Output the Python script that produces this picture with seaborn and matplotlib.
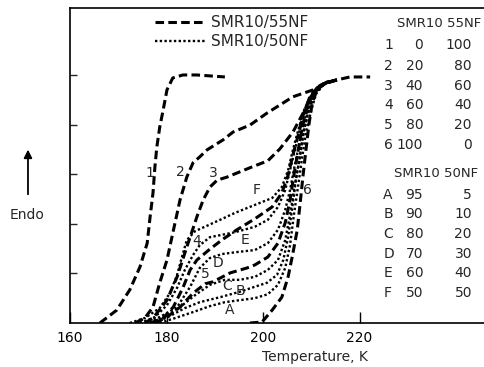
import matplotlib
matplotlib.use("Agg")
import matplotlib.pyplot as plt
from matplotlib.lines import Line2D
import seaborn as sns
import pandas as pd

# ---------------- data (Temperature in K, endotherm signal in arbitrary units) ----------------
series_names = ["SMR10/55NF", "SMR10/50NF"]

t1 = [166.2, 169.7, 172.4, 174.5, 176.0, 176.6, 177.2, 177.6, 178.0, 178.6, 179.3, 180.1, 181.3, 183.4, 186.3, 192.1]
s1 = [0.00, 0.26, 0.67, 1.13, 1.61, 2.14, 2.62, 3.15, 3.55, 3.95, 4.29, 4.70, 4.94, 5.00, 5.00, 4.96]

t2 = [173.5, 175.5, 177.2, 178.6, 180.1, 181.3, 182.8, 184.2, 185.5, 186.9, 188.4, 191.7, 193.8, 197.3, 200.8, 206.2, 210.4, 213.3, 215.3, 218.0, 222.2]
s2 = [0.00, 0.10, 0.32, 0.81, 1.27, 1.81, 2.48, 2.94, 3.23, 3.35, 3.49, 3.69, 3.85, 3.99, 4.23, 4.56, 4.70, 4.84, 4.90, 4.96, 4.96]

t3 = [175.5, 177.2, 180.1, 182.2, 184.2, 186.3, 187.6, 189.0, 190.5, 192.5, 197.3, 201.0, 203.5, 206.2, 208.3, 210.4, 212.4, 215.3]
s3 = [0.00, 0.10, 0.46, 0.93, 1.53, 2.14, 2.48, 2.74, 2.88, 2.94, 3.13, 3.27, 3.51, 3.85, 4.23, 4.64, 4.82, 4.90]

t4 = [176.6, 179.3, 181.4, 183.4, 184.9, 186.3, 189.0, 191.7, 194.6, 198.3, 201.9, 203.9, 205.2, 206.2, 207.3, 208.3, 209.7, 211.2, 213.3, 215.3]
s4 = [0.00, 0.10, 0.32, 0.71, 1.07, 1.27, 1.49, 1.69, 1.88, 2.10, 2.34, 2.62, 2.98, 3.39, 3.79, 4.19, 4.56, 4.74, 4.86, 4.90]

t5 = [177.6, 180.1, 182.8, 185.5, 188.0, 189.6, 193.2, 196.7, 198.3, 201.0, 203.1, 204.6, 205.6, 206.4, 207.3, 208.1, 209.1, 210.4, 212.2, 215.3]
s5 = [0.00, 0.12, 0.32, 0.60, 0.79, 0.83, 1.01, 1.11, 1.17, 1.33, 1.61, 2.02, 2.48, 2.98, 3.49, 3.93, 4.33, 4.64, 4.82, 4.90]

t6 = [197.3, 199.8, 201.9, 203.9, 205.2, 206.2, 207.1, 207.7, 208.3, 208.9, 209.5, 210.2, 211.2, 212.9, 215.3]
s6 = [0.00, 0.02, 0.26, 0.52, 0.93, 1.41, 1.88, 2.42, 2.98, 3.49, 3.99, 4.44, 4.70, 4.84, 4.90]

tA = [178.6, 181.8, 185.5, 189.0, 192.1, 195.2, 198.3, 201.0, 203.1, 204.6, 205.6, 206.4, 207.3, 208.1, 208.9, 210.0, 211.0, 212.7, 215.3]
sA = [0.00, 0.10, 0.22, 0.34, 0.42, 0.46, 0.50, 0.58, 0.77, 1.11, 1.57, 2.18, 2.78, 3.33, 3.83, 4.29, 4.62, 4.82, 4.90]

tB = [177.6, 180.7, 183.8, 186.9, 191.1, 195.2, 198.3, 200.8, 202.9, 204.2, 205.2, 206.0, 206.8, 207.7, 208.5, 209.5, 210.8, 212.4, 215.3]
sB = [0.00, 0.14, 0.30, 0.42, 0.52, 0.63, 0.73, 0.81, 0.97, 1.27, 1.73, 2.28, 2.88, 3.39, 3.89, 4.29, 4.64, 4.82, 4.90]

tC = [176.6, 179.7, 182.8, 185.9, 189.0, 192.1, 195.2, 198.3, 201.0, 203.1, 204.6, 205.6, 206.6, 207.5, 208.3, 209.3, 210.6, 212.2, 215.3]
sC = [0.00, 0.12, 0.32, 0.56, 0.77, 0.87, 0.87, 0.93, 1.07, 1.27, 1.67, 2.18, 2.78, 3.27, 3.79, 4.23, 4.60, 4.80, 4.90]

tD = [175.5, 178.6, 182.2, 184.9, 186.9, 189.0, 191.5, 194.6, 198.3, 201.0, 203.1, 204.6, 205.6, 206.6, 207.7, 208.7, 210.0, 211.4, 213.3, 215.3]
sD = [0.00, 0.12, 0.32, 0.73, 1.11, 1.31, 1.39, 1.43, 1.47, 1.61, 1.88, 2.28, 2.68, 3.19, 3.69, 4.13, 4.54, 4.74, 4.86, 4.90]

tE = [174.5, 177.6, 180.1, 182.2, 183.8, 185.5, 186.9, 189.0, 194.2, 198.3, 201.0, 203.1, 204.6, 205.6, 206.6, 207.7, 208.9, 210.4, 212.2, 215.3]
sE = [0.00, 0.12, 0.36, 0.71, 1.07, 1.37, 1.57, 1.73, 1.83, 1.94, 2.08, 2.34, 2.68, 3.08, 3.49, 3.93, 4.33, 4.64, 4.82, 4.90]

tF = [172.4, 175.5, 178.6, 180.7, 182.2, 183.2, 184.2, 185.9, 188.4, 191.1, 194.2, 198.3, 201.9, 203.9, 205.2, 206.2, 207.3, 208.5, 210.0, 211.8, 215.3]
sF = [0.00, 0.10, 0.30, 0.60, 0.97, 1.33, 1.67, 1.85, 1.96, 2.08, 2.22, 2.38, 2.52, 2.74, 3.08, 3.49, 3.89, 4.29, 4.60, 4.80, 4.90]

curves_55 = {"1": (t1, s1), "2": (t2, s2), "3": (t3, s3), "4": (t4, s4), "5": (t5, s5), "6": (t6, s6)}
curves_50 = {"A": (tA, sA), "B": (tB, sB), "C": (tC, sC), "D": (tD, sD), "E": (tE, sE), "F": (tF, sF)}

# curve label annotations
curve_labels = ["1", "2", "3", "4", "5", "6", "A", "B", "C", "D", "E", "F"]
label_T = [176.6, 182.8, 189.6, 186.3, 188.0, 209.3, 193.0, 195.4, 192.5, 190.7, 196.3, 198.6]
label_S = [3.02, 3.04, 3.02, 1.65, 0.99, 2.68, 0.26, 0.65, 0.75, 1.21, 1.67, 2.68]

# composition table
table1_header = "SMR10 55NF"
table1_ids = ["1", "2", "3", "4", "5", "6"]
table1_smr = ["0", "20", "40", "60", "80", "100"]
table1_nf = ["100", "80", "60", "40", "20", "0"]
table2_header = "SMR10 50NF"
table2_ids = ["A", "B", "C", "D", "E", "F"]
table2_smr = ["95", "90", "80", "70", "60", "50"]
table2_nf = ["5", "10", "20", "30", "40", "50"]

x_ticks = [160, 180, 200, 220]
y_ticks = [1, 2, 3, 4, 5]

# ---------------- build long table ----------------
rows = []
for name, (tt, ss) in curves_55.items():
    for a, b in zip(tt, ss):
        rows.append((a, b, name, series_names[0]))
for name, (tt, ss) in curves_50.items():
    for a, b in zip(tt, ss):
        rows.append((a, b, name, series_names[1]))
df = pd.DataFrame(rows, columns=["Temperature", "Signal", "curve", "series"])

sns.set_style("white")
plt.rcParams["font.family"] = ["DejaVu Sans"]

fig = plt.figure(figsize=(4.85, 3.67), dpi=100)
ax = fig.add_axes([0.1443, 0.1199, 0.8557, 0.8583])

dash_55 = (2.8, 1.4)
dash_50 = (1.0, 1.0)

sns.lineplot(data=df[df.series == series_names[0]], x="Temperature", y="Signal",
             units="curve", estimator=None, sort=False, style="series",
             dashes={series_names[0]: dash_55}, color="black", linewidth=2.2,
             legend=False, ax=ax)
sns.lineplot(data=df[df.series == series_names[1]], x="Temperature", y="Signal",
             units="curve", estimator=None, sort=False, style="series",
             dashes={series_names[1]: dash_50}, color="black", linewidth=1.7,
             legend=False, ax=ax)

ax.set_xlim(160, 246)
ax.set_ylim(0, 6.35)
ax.set_xticks(x_ticks)
ax.set_xticklabels([str(v) for v in x_ticks])
ax.set_yticks(y_ticks)
ax.set_yticklabels([])
ax.tick_params(axis="x", direction="in", length=8, width=1, pad=6, labelsize=10, colors="black", bottom=True)
ax.tick_params(axis="y", direction="in", length=5, width=1, left=True)
for side in ["left", "bottom", "top"]:
    ax.spines[side].set_visible(True)
    ax.spines[side].set_color("black")
    ax.spines[side].set_linewidth(1.2)
ax.spines["right"].set_visible(False)

ax.set_ylabel("")
ax.set_xlabel("Temperature, K", fontsize=10)
ax.xaxis.set_label_coords(0.59, -0.085)

# legend
handles = [Line2D([], [], color="black", lw=2.2, dashes=dash_55),
           Line2D([], [], color="black", lw=1.7, dashes=dash_50)]
ax.legend(handles, series_names, loc="upper left", bbox_to_anchor=(0.205, 0.977),
          frameon=False, fontsize=11, handlelength=3.3, handletextpad=0.35,
          labelspacing=0.25, borderpad=0, borderaxespad=0)

# curve labels
for lab, xt, yt in zip(curve_labels, label_T, label_S):
    ax.text(xt, yt, lab, fontsize=10, ha="center", va="center")

# composition tables (data coordinates)
ax.text(227.8, 6.03, table1_header, fontsize=9.5, ha="left", va="center")
t1_rows = [5.60, 5.18, 4.78, 4.40, 3.99, 3.59]
for yy, a, b, c in zip(t1_rows, table1_ids, table1_smr, table1_nf):
    ax.text(225.1, yy, a, fontsize=10, ha="left", va="center")
    ax.text(233.2, yy, b, fontsize=10, ha="right", va="center")
    ax.text(243.3, yy, c, fontsize=10, ha="right", va="center")
ax.text(227.2, 3.02, table2_header, fontsize=9.5, ha="left", va="center")
t2_rows = [2.58, 2.20, 1.79, 1.39, 1.01, 0.60]
for yy, a, b, c in zip(t2_rows, table2_ids, table2_smr, table2_nf):
    ax.text(224.9, yy, a, fontsize=10, ha="left", va="center")
    ax.text(233.2, yy, b, fontsize=10, ha="right", va="center")
    ax.text(243.3, yy, c, fontsize=10, ha="right", va="center")

# Endo arrow
ax.annotate("", xy=(0.0577, 0.600), xytext=(0.0577, 0.463), xycoords="figure fraction",
            textcoords="figure fraction",
            arrowprops=dict(arrowstyle="-|>", color="black", lw=1.3, mutation_scale=12))
fig.text(0.0557, 0.414, "Endo", fontsize=10, ha="center", va="center")

fig.savefig("out.png", dpi=100)
